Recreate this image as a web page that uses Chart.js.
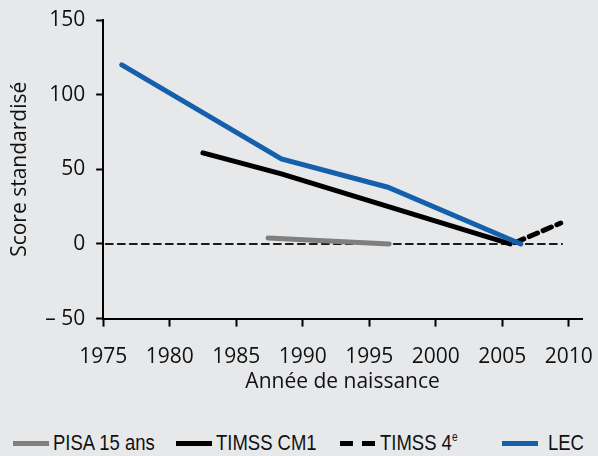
<!DOCTYPE html>
<html>
<head>
<meta charset="utf-8">
<script src="https://cdn.jsdelivr.net/npm/chart.js@4.4.1/dist/chart.umd.min.js"></script>
<style>
  html, body { margin: 0; padding: 0; background: #e7e8ea; }
  #wrap { width: 598px; height: 400px; position: relative; }
  #legend { position: absolute; left: 0; top: 430px; width: 598px; height: 26px; }
  .item { position: absolute; top: 0; height: 26px; display: flex; align-items: center; }
  .swatch { width: 36px; height: 5px; margin-right: 4px; }
  .label { font-family: "Liberation Sans", sans-serif; font-size: 22px; color: #111;
           transform: scaleX(0.84); transform-origin: left center; white-space: nowrap; }
  sup { font-size: 12px; vertical-align: 9px; }
</style>
</head>
<body>
<div id="wrap"><canvas id="scoreChart"></canvas></div>
<div id="legend"></div>
<script>
// values
const pisaYears = [1987.4, 1996.5];
const pisaScores = [4, 0];
const cm1Years = [1982.5, 1988.4, 2005.6];
const cm1Scores = [61, 47, 0];
const quatreYears = [2006.0, 2009.4];
const quatreScores = [1, 14];
const lecYears = [1976.4, 1988.4, 1996.4, 2006.4];
const lecScores = [120, 57, 38, 0];
const refYears = [1975.2, 2009.5];
const refScores = [0, 0];
const xTicks = [1975, 1980, 1985, 1990, 1995, 2000, 2005, 2010];

function toPoints(xs, ys) {
  return xs.map((x, i) => ({ x: x, y: ys[i] }));
}

const tickFont = { family: "Open Sans", size: 21 };
const titleFont = { family: "Open Sans", size: 21 };

let datasets = [
  {
    label: "PISA 15 ans",
    data: toPoints(pisaYears, pisaScores),
    borderColor: "#7f7f7f",
    borderWidth: 5,
    order: 1,
  },
  {
    label: "TIMSS CM1",
    data: toPoints(cm1Years, cm1Scores),
    borderColor: "#000000",
    borderWidth: 5,
    order: 2,
  },
  {
    label: "TIMSS 4<sup>e</sup>",
    data: toPoints(quatreYears, quatreScores),
    borderColor: "#000000",
    borderWidth: 5,
    borderDash: [9, 6],
    order: 3,
  },
  {
    label: "LEC",
    data: toPoints(lecYears, lecScores),
    borderColor: "#1560ac",
    borderWidth: 5,
    order: 0,
  },
  {
    label: "ref",
    data: toPoints(refYears, refScores),
    borderColor: "#1a1a1a",
    borderWidth: 2,
    borderDash: [7, 5],
    order: 5,
  },
];

let scoreCtx = document.getElementById("scoreChart").getContext("2d");
new Chart(scoreCtx, {
  type: "line",
  data: { datasets: datasets },
  options: {
    responsive: true,
    maintainAspectRatio: false,
    animation: false,
    layout: { padding: { top: 20, right: 16, left: 7, bottom: 3 } },
    elements: {
      point: { radius: 0, hoverRadius: 0 },
      line: { tension: 0, borderCapStyle: "round", fill: false },
    },
    scales: {
      x: {
        type: "linear",
        min: 1975,
        max: 2011,
        afterBuildTicks: (axis) => {
          axis.ticks = xTicks.map((v) => ({ value: v }));
        },
        afterFit: (axis) => {
          axis.paddingRight = 0;
        },
        ticks: { color: "#111", font: tickFont, padding: 18, maxRotation: 0, callback: (v) => String(v) },
        grid: { drawOnChartArea: false, color: "#000", tickLength: 8, tickWidth: 2 },
        border: { color: "#000", width: 2 },
        // negative top padding compensates the doubled tick padding
        title: { display: true, text: "Année de naissance", color: "#111", font: titleFont, padding: { top: -18, bottom: 2 } },
      },
      y: {
        min: -50,
        max: 150,
        afterFit: (axis) => {
          axis.paddingTop = 0;
        },
        ticks: {
          stepSize: 50,
          color: "#111",
          font: tickFont,
          padding: 11,
          callback: (v) => (v < 0 ? "– " + Math.abs(v) : String(v)),
        },
        grid: { drawOnChartArea: false, color: "#000", tickLength: 7, tickWidth: 2 },
        border: { color: "#000", width: 2 },
        title: { display: true, text: "Score standardisé", color: "#111", font: titleFont, padding: { top: 0, bottom: 2 } },
      },
    },
    plugins: {
      tooltip: { enabled: false },
      legend: { display: false },
    },
  },
});

// legend below the chart, four equal columns
let legendLefts = [13, 176, 340, 502];
let legendHtml = "";
datasets.slice(0, 4).forEach((ds, i) => {
  let fill = ds.borderDash
    ? `repeating-linear-gradient(90deg, ${ds.borderColor} 0 13px, transparent 13px 22px)`
    : ds.borderColor;
  let gap = i === 3 ? 10 : 4;
  legendHtml +=
    `<div class="item" style="left:${legendLefts[i]}px">` +
    `<div class="swatch" style="background:${fill};margin-right:${gap}px"></div>` +
    `<span class="label">${ds.label}</span></div>`;
});
document.getElementById("legend").innerHTML = legendHtml;
</script>
</body>
</html>
